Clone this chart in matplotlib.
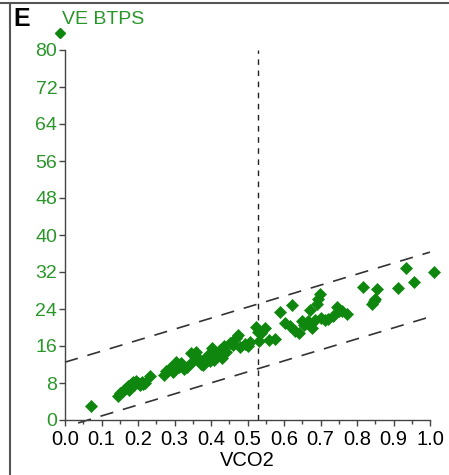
import matplotlib
matplotlib.use("Agg")
import matplotlib.pyplot as plt
from matplotlib.lines import Line2D
from matplotlib.ticker import MultipleLocator

plt.rcParams['font.family'] = ['Liberation Sans', 'DejaVu Sans']

# ---- data ----
vco2 = [0.071,
        0.145, 0.150, 0.158, 0.165, 0.172, 0.175, 0.180, 0.185, 0.190, 0.195,
        0.200, 0.205, 0.210, 0.215, 0.220, 0.232,
        0.272, 0.278, 0.288, 0.295, 0.300, 0.305, 0.312, 0.318, 0.325, 0.334,
        0.345, 0.352, 0.360, 0.366, 0.372, 0.378, 0.385, 0.392, 0.398, 0.403,
        0.408, 0.411, 0.418, 0.425, 0.430, 0.436, 0.442, 0.452, 0.460, 0.468,
        0.474, 0.480, 0.493, 0.500, 0.507,
        0.524, 0.530, 0.532, 0.536, 0.548, 0.560, 0.575, 0.589, 0.603, 0.616,
        0.622, 0.630, 0.640, 0.648, 0.655, 0.666, 0.671, 0.677, 0.685, 0.690,
        0.694, 0.699, 0.702, 0.712, 0.720, 0.734, 0.745, 0.752, 0.760, 0.773,
        0.816, 0.841, 0.846, 0.850, 0.855, 0.912, 0.934, 0.956, 1.011]
ve = [3.0,
      5.2, 5.8, 6.3, 6.8, 7.3, 6.5, 7.8, 8.2, 7.5, 8.4,
      8.0, 7.6, 8.3, 7.8, 7.9, 9.6,
      9.8, 10.6, 11.2, 10.4, 12.0, 12.6, 11.5, 12.3, 11.0, 11.4,
      14.4, 12.8, 14.8, 13.2, 12.2, 11.9, 13.5, 14.1, 12.8, 15.6,
      13.0, 13.8, 14.5, 15.1, 13.4, 15.9, 14.6, 16.6, 16.2, 17.8,
      18.3, 15.8, 16.5, 16.0, 16.9,
      20.2, 19.0, 17.0, 18.8, 19.8, 17.3, 17.6, 23.4, 21.0, 20.3,
      24.9, 19.2, 18.8, 21.5, 20.6, 21.3, 23.7, 20.0, 21.6, 25.0,
      26.2, 27.3, 22.0, 21.6, 21.8, 22.4, 24.5, 23.6, 23.5, 23.0,
      28.8, 25.0, 25.8, 26.2, 28.3, 28.5, 32.9, 29.8, 32.0]

upper_x = [0.0, 1.0]
upper_y = [12.5, 36.3]
lower_x = [0.036, 1.0]
lower_y = [-0.64, 22.3]
threshold_vco2 = 0.529

x_ticks = [0.0, 0.1, 0.2, 0.3, 0.4, 0.5, 0.6, 0.7, 0.8, 0.9, 1.0]
y_ticks = [0, 8, 16, 24, 32, 40, 48, 56, 64, 72, 80]

GREEN_PT = '#0f870f'
GREEN_TXT = '#2a962a'

W, H = 449, 475
fig = plt.figure(figsize=(W / 100, H / 100), dpi=100)
ax = fig.add_axes([65 / W, 1 - 420 / H, (430 - 65) / W, (420 - 50) / H])

ax.plot(upper_x, upper_y, color='#333333', lw=1.2, dashes=(8, 6), clip_on=False)
ax.plot(lower_x, lower_y, color='#333333', lw=1.2, dashes=(8, 6), clip_on=False)
ax.plot([threshold_vco2, threshold_vco2], [0, 80], color='#222222', lw=1.0,
        dashes=(4, 4), clip_on=False)

ax.plot(vco2, ve, linestyle='none', marker='D', markersize=5.8,
        color=GREEN_PT, markeredgewidth=0.5, clip_on=False)

ax.set_xlim(0, 1.0)
ax.set_ylim(0, 80)
ax.set_xticks(x_ticks)
ax.set_xticklabels([f'{t:.1f}' for t in x_ticks])
ax.xaxis.set_minor_locator(MultipleLocator(0.05))
ax.set_yticks(y_ticks)
ax.set_yticklabels([str(t) for t in y_ticks])

for s in ['top', 'right']:
    ax.spines[s].set_visible(False)
for s in ['left', 'bottom']:
    ax.spines[s].set_color('#444444')
    ax.spines[s].set_linewidth(1.0)

ax.tick_params(axis='x', which='major', length=4, width=1, color='#444444',
               labelsize=14.5, labelcolor='black', pad=3)
ax.tick_params(axis='x', which='minor', length=3, width=1, color='#444444')
ax.tick_params(axis='y', which='major', length=4, width=1, color='#444444',
               labelsize=14, labelcolor=GREEN_TXT, pad=1.5)

ax.set_xlabel('VCO2', fontsize=14.5, color='black', labelpad=2)

# legend-like title marker and text
ax.plot([-5 / 365], [1 + 17 / 370], transform=ax.transAxes, marker='D',
        markersize=5.5, color=GREEN_PT, linestyle='none', clip_on=False)
fig.text(62 / W, 1 - 19 / H, 'VE BTPS', fontsize=14, color=GREEN_TXT,
         ha='left', va='center')

# panel label
fig.text(13 / W, 1 - 19 / H, 'E', fontsize=18, fontweight='bold',
         color='black', ha='left', va='center')

# outer frame lines
fig.add_artist(Line2D([0, 1], [1 - 3 / H, 1 - 3 / H], transform=fig.transFigure,
                      color='#555555', lw=1.5))
fig.add_artist(Line2D([10 / W, 10 / W], [0, 1 - 3 / H], transform=fig.transFigure,
                      color='#555555', lw=1.5))

fig.savefig('out.png', dpi=100)
